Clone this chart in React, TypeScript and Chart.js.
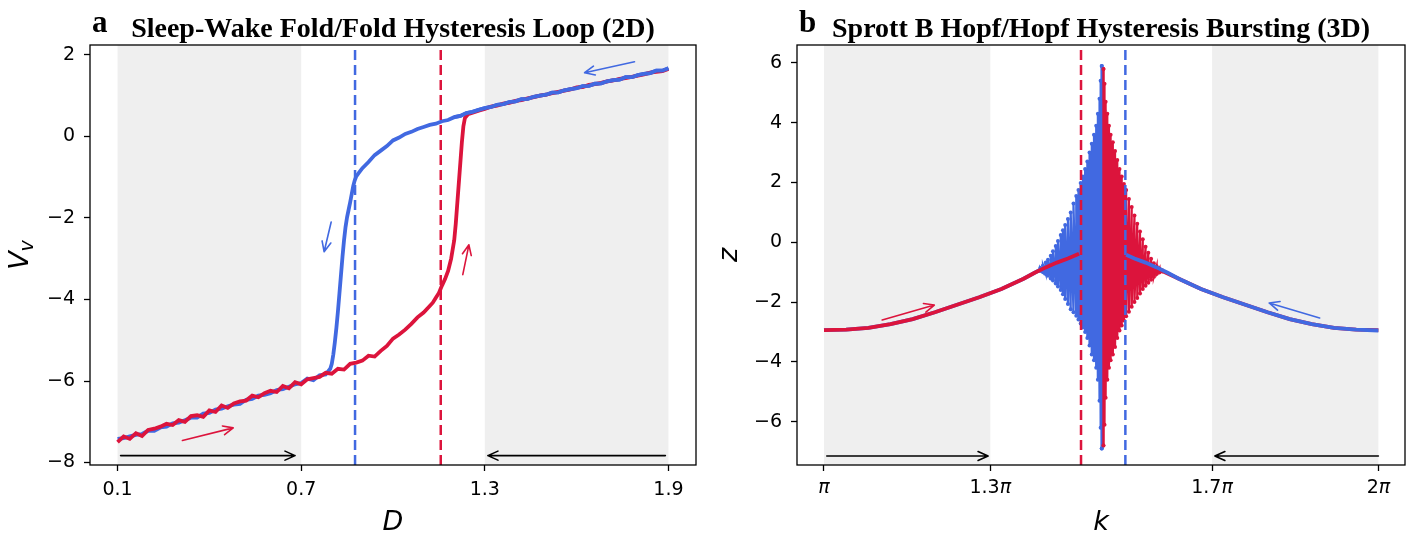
import React, { useEffect, useRef } from "react";
import { Chart, registerables } from "chart.js";
Chart.register(...registerables);

const BLUE = "#4169E1";
const RED = "#DC143C";
const SHADE = "#efefef";
type P = [number, number];
type Cycle = [number, number, number];

// ---------- Panel a : Sleep-Wake fold/fold hysteresis ----------
const aXTicks = [0.1, 0.7, 1.3, 1.9];
const aYTicks = [-8, -6, -4, -2, 0, 2];
const aShade: P[] = [[0.1, 0.7], [1.3, 1.9]];
const aThresholdBackward = 0.876;
const aThresholdForward = 1.156;

const aForward: P[] = [
  [0.10,-7.50],[0.12,-7.36],[0.14,-7.42],[0.16,-7.28],[0.18,-7.35],[0.20,-7.20],[0.22,-7.17],[0.24,-7.12],
  [0.26,-7.05],[0.28,-7.08],[0.30,-6.96],[0.32,-7.00],[0.34,-6.86],[0.36,-6.84],[0.38,-6.88],[0.40,-6.72],
  [0.42,-6.76],[0.44,-6.60],[0.46,-6.66],[0.48,-6.55],[0.50,-6.50],[0.52,-6.48],[0.54,-6.36],[0.56,-6.40],
  [0.58,-6.30],[0.60,-6.24],[0.62,-6.27],[0.64,-6.12],[0.66,-6.18],[0.68,-6.03],[0.70,-6.08],[0.72,-5.96],
  [0.74,-5.93],[0.76,-5.90],[0.78,-5.80],[0.80,-5.82],[0.82,-5.70],[0.84,-5.72],[0.86,-5.58],[0.88,-5.55],
  [0.90,-5.50],[0.92,-5.38],[0.94,-5.40],[0.96,-5.26],[0.98,-5.14],[1.00,-4.96],[1.02,-4.86],[1.04,-4.74],
  [1.06,-4.60],[1.08,-4.44],[1.10,-4.32],[1.12,-4.16],[1.13,-4.08],[1.14,-3.96],[1.15,-3.84],[1.16,-3.66],
  [1.17,-3.50],[1.18,-3.30],[1.19,-3.00],[1.20,-2.55],[1.205,-2.15],[1.21,-1.65],[1.215,-1.15],[1.22,-0.65],
  [1.225,-0.15],[1.23,0.25],[1.235,0.45],[1.245,0.54],[1.26,0.58],[1.28,0.63],[1.30,0.67],[1.32,0.73],
  [1.34,0.75],[1.36,0.80],[1.38,0.82],[1.40,0.87],[1.42,0.89],[1.44,0.93],[1.46,0.96],[1.48,1.00],
  [1.50,1.02],[1.52,1.06],[1.54,1.09],[1.56,1.12],[1.58,1.15],[1.60,1.20],[1.62,1.21],[1.64,1.26],
  [1.66,1.28],[1.68,1.31],[1.70,1.35],[1.72,1.37],[1.74,1.41],[1.76,1.43],[1.78,1.46],[1.80,1.49],
  [1.82,1.52],[1.84,1.56],[1.86,1.58],[1.88,1.60],[1.90,1.65],
];

const aBackward: P[] = [
  [1.90,1.67],[1.88,1.61],[1.86,1.61],[1.84,1.55],[1.82,1.53],[1.80,1.50],[1.78,1.45],[1.76,1.45],
  [1.74,1.39],[1.72,1.38],[1.70,1.35],[1.68,1.30],[1.66,1.29],[1.64,1.24],[1.62,1.23],[1.60,1.18],
  [1.58,1.16],[1.56,1.13],[1.54,1.08],[1.52,1.07],[1.50,1.02],[1.48,1.00],[1.46,0.97],[1.44,0.92],
  [1.42,0.91],[1.40,0.86],[1.38,0.84],[1.36,0.79],[1.34,0.77],[1.32,0.72],[1.30,0.69],[1.28,0.65],
  [1.26,0.60],[1.24,0.57],[1.22,0.50],[1.20,0.47],[1.18,0.40],[1.16,0.37],[1.14,0.31],[1.12,0.28],
  [1.10,0.23],[1.08,0.18],[1.06,0.11],[1.04,0.06],[1.02,-0.03],[1.00,-0.10],[0.98,-0.24],[0.96,-0.35],
  [0.94,-0.46],[0.92,-0.63],[0.90,-0.78],[0.89,-0.88],[0.88,-0.98],[0.875,-1.08],[0.87,-1.22],[0.865,-1.42],
  [0.86,-1.62],[0.855,-1.80],[0.85,-1.98],[0.845,-2.22],[0.84,-2.55],[0.835,-2.95],[0.83,-3.40],[0.825,-3.85],
  [0.82,-4.30],[0.815,-4.70],[0.81,-5.05],[0.805,-5.35],[0.80,-5.58],[0.795,-5.70],[0.78,-5.84],[0.76,-5.86],
  [0.74,-5.98],[0.72,-5.94],[0.70,-6.05],[0.68,-6.08],[0.66,-6.14],[0.64,-6.20],[0.62,-6.22],[0.60,-6.30],
  [0.58,-6.34],[0.56,-6.36],[0.54,-6.44],[0.52,-6.46],[0.50,-6.56],[0.48,-6.58],[0.46,-6.62],[0.44,-6.68],
  [0.42,-6.70],[0.40,-6.78],[0.38,-6.80],[0.36,-6.90],[0.34,-6.90],[0.32,-6.96],[0.30,-7.02],[0.28,-7.04],
  [0.26,-7.12],[0.24,-7.14],[0.22,-7.22],[0.20,-7.22],[0.18,-7.30],[0.16,-7.32],[0.14,-7.36],[0.12,-7.40],
  [0.10,-7.42],
];

const aArrowsForward: P[][] = [[[0.312,-7.46],[0.478,-7.15]], [[1.228,-3.39],[1.248,-2.66]]];
const aArrowsBackward: P[][] = [[[1.789,1.83],[1.626,1.56]], [[0.798,-2.10],[0.775,-2.83]]];
const aArrowsSweep: P[][] = [[[0.11,-7.83],[0.68,-7.83]], [[1.89,-7.83],[1.31,-7.83]]];

// ---------- Panel b : Sprott B Hopf/Hopf hysteresis bursting (k in units of pi) ----------
const bXTicks = [1, 1.3, 1.7, 2];
const bXTickLabels = ["", "1.3", "1.7", "2"];
const bYTicks = [-6, -4, -2, 0, 2, 4, 6];
const bShade: P[] = [[1.0, 1.3], [1.7, 2.0]];
const bThresholdForward = 1.4636;
const bThresholdBackward = 1.5436;

const bForwardHead: P[] = [
  [1.00,-2.94],[1.04,-2.92],[1.08,-2.86],[1.12,-2.74],[1.16,-2.57],[1.20,-2.34],[1.24,-2.09],[1.28,-1.84],
  [1.32,-1.56],[1.36,-1.22],[1.38,-1.02],[1.40,-0.84],[1.42,-0.68],[1.44,-0.54],[1.46,-0.38],
];
// [k, upper turning point, lower turning point] per oscillation
const bForwardBurst: Cycle[] = [
  [1.460,-0.30,-0.50],[1.465,-0.10,-0.75],[1.470,0.15,-1.00],[1.475,0.45,-1.30],[1.480,0.85,-1.70],
  [1.485,1.40,-2.20],[1.490,2.30,-2.90],[1.495,3.30,-3.60],[1.499,4.30,-4.60],[1.502,5.10,-5.80],
  [1.504,5.80,-6.80],[1.506,5.30,-6.10],[1.508,4.70,-5.20],[1.511,4.30,-4.60],[1.514,3.90,-4.20],
  [1.517,3.60,-3.95],[1.521,3.35,-3.75],[1.525,3.05,-3.50],[1.529,2.75,-3.20],[1.533,2.45,-2.95],
  [1.537,2.20,-2.78],[1.541,1.95,-2.62],[1.545,1.75,-2.47],[1.550,1.45,-2.32],[1.555,1.18,-2.16],
  [1.560,0.90,-2.00],[1.565,0.62,-1.86],[1.570,0.36,-1.71],[1.575,0.10,-1.56],[1.580,-0.15,-1.45],
  [1.585,-0.35,-1.35],[1.590,-0.55,-1.25],[1.595,-0.70,-1.15],[1.600,-0.80,-1.06],[1.605,-0.88,-1.01],
  [1.610,-0.94,-0.98],
];
const bForwardTail: P[] = [
  [1.61,-0.96],[1.64,-1.22],[1.68,-1.56],[1.72,-1.84],[1.76,-2.09],[1.80,-2.34],[1.84,-2.57],[1.88,-2.74],
  [1.92,-2.86],[1.96,-2.92],[2.00,-2.94],
];

const bBackwardHead: P[] = [
  [2.00,-2.95],[1.96,-2.92],[1.92,-2.86],[1.88,-2.74],[1.84,-2.57],[1.80,-2.34],[1.76,-2.09],[1.72,-1.84],
  [1.68,-1.56],[1.64,-1.22],[1.62,-1.02],[1.60,-0.84],[1.58,-0.68],[1.56,-0.54],[1.545,-0.42],
];
const bBackwardBurst: Cycle[] = [
  [1.545,-0.35,-0.55],[1.540,-0.20,-0.80],[1.535,0.00,-1.05],[1.530,0.30,-1.35],[1.525,0.70,-1.70],
  [1.520,1.30,-2.20],[1.515,2.20,-2.80],[1.510,3.30,-3.60],[1.506,4.40,-4.60],[1.503,5.20,-5.90],
  [1.501,5.90,-6.90],[1.499,5.40,-6.20],[1.497,4.80,-5.30],[1.494,4.30,-4.60],[1.491,3.90,-4.20],
  [1.487,3.60,-3.95],[1.483,3.30,-3.75],[1.479,3.00,-3.45],[1.475,2.70,-3.20],[1.471,2.45,-3.00],
  [1.467,2.20,-2.85],[1.463,1.98,-2.72],[1.459,1.75,-2.58],[1.455,1.55,-2.46],[1.450,1.30,-2.34],
  [1.445,1.00,-2.24],[1.440,0.78,-2.06],[1.435,0.58,-1.90],[1.431,0.40,-1.74],[1.427,0.24,-1.60],
  [1.422,0.04,-1.48],[1.418,-0.12,-1.38],[1.413,-0.30,-1.28],[1.409,-0.45,-1.21],[1.404,-0.58,-1.12],
  [1.400,-0.68,-1.06],[1.395,-0.78,-1.00],[1.390,-0.86,-0.96],
];
const bBackwardTail: P[] = [
  [1.39,-0.92],[1.36,-1.22],[1.32,-1.56],[1.28,-1.84],[1.24,-2.09],[1.20,-2.34],[1.16,-2.57],[1.12,-2.74],
  [1.08,-2.86],[1.04,-2.92],[1.00,-2.94],
];

const bArrowsForward: P[][] = [[[1.105,-2.60],[1.199,-2.10]]];
const bArrowsBackward: P[][] = [[[1.894,-2.53],[1.803,-2.03]]];
const bArrowsSweep: P[][] = [[[1.005,-7.15],[1.296,-7.15]], [[2.0,-7.15],[1.705,-7.15]]];

// ---------- helpers ----------
const TICK_FONT = { family: "'DejaVu Sans'", size: 19 };
const pts = (a: P[]) => a.map(([x, y]) => ({ x, y }));
const zigzag = (c: Cycle[]) => c.flatMap(([k, t, b]) => [{ x: k, y: t }, { x: k, y: b }]);
const peakIndex = (c: Cycle[]) => c.reduce((best, cur, i) => (cur[1] > c[best][1] ? i : best), 0);
const growth = (c: Cycle[]) => c.slice(0, peakIndex(c) + 1);
const decay = (c: Cycle[]) => c.slice(peakIndex(c));
const minus = (v: number) => (v < 0 ? "\u2212" + Math.abs(v) : String(v));

type ArrowSet = { list: P[][]; color: string; width: number };

function drawArrow(ctx: CanvasRenderingContext2D, x1: number, y1: number, x2: number, y2: number, color: string, w: number) {
  const ang = Math.atan2(y2 - y1, x2 - x1);
  const L = 11, spread = 0.42;
  ctx.save();
  ctx.strokeStyle = color;
  ctx.lineWidth = w;
  ctx.lineCap = "round";
  ctx.lineJoin = "round";
  ctx.beginPath();
  ctx.moveTo(x1, y1);
  ctx.lineTo(x2, y2);
  ctx.moveTo(x2 - L * Math.cos(ang - spread), y2 - L * Math.sin(ang - spread));
  ctx.lineTo(x2, y2);
  ctx.lineTo(x2 - L * Math.cos(ang + spread), y2 - L * Math.sin(ang + spread));
  ctx.stroke();
  ctx.restore();
}

function makePlugin(cfg: {
  id: string;
  letter: string;
  title: string;
  shades: P[];
  arrows: ArrowSet[];
  xLabel: string;
  yLabel: string;
  ySub?: string;
  yLabelOffset: number;
  piTicks?: { values: number[]; labels: string[] };
}) {
  return {
    id: cfg.id,
    beforeDatasetsDraw(chart: any) {
      const { ctx, chartArea: a, scales } = chart;
      ctx.save();
      ctx.fillStyle = SHADE;
      for (const [s, e] of cfg.shades) {
        const x1 = scales.x.getPixelForValue(s);
        const x2 = scales.x.getPixelForValue(e);
        ctx.fillRect(x1, a.top, x2 - x1, a.bottom - a.top);
      }
      ctx.restore();
    },
    afterDatasetsDraw(chart: any) {
      const { ctx, chartArea: a, scales } = chart;
      for (const set of cfg.arrows) {
        for (const [[x1, y1], [x2, y2]] of set.list) {
          drawArrow(ctx, scales.x.getPixelForValue(x1), scales.y.getPixelForValue(y1),
            scales.x.getPixelForValue(x2), scales.y.getPixelForValue(y2), set.color, set.width);
        }
      }
      ctx.save();
      ctx.strokeStyle = "#000";
      ctx.lineWidth = 1.3;
      ctx.strokeRect(a.left, a.top, a.right - a.left, a.bottom - a.top);
      ctx.restore();
    },
    afterDraw(chart: any) {
      const { ctx, chartArea: a, scales } = chart;
      ctx.save();
      ctx.fillStyle = "#000";
      ctx.font = "bold 31px 'Liberation Serif'";
      ctx.textAlign = "left";
      ctx.textBaseline = "alphabetic";
      ctx.fillText(cfg.letter, a.left + 2, 32);
      ctx.font = "bold 28px 'Liberation Serif'";
      ctx.textAlign = "center";
      ctx.fillText(cfg.title, (a.left + a.right) / 2, 37);
      ctx.font = "italic 27px 'DejaVu Sans'";
      ctx.fillText(cfg.xLabel, (a.left + a.right) / 2, 530);
      ctx.translate(a.left - cfg.yLabelOffset, (a.top + a.bottom) / 2);
      ctx.rotate(-Math.PI / 2);
      ctx.textAlign = "left";
      ctx.font = "italic 27px 'DejaVu Sans'";
      const wMain = ctx.measureText(cfg.yLabel).width;
      ctx.font = "italic 19px 'DejaVu Sans'";
      const wSub = cfg.ySub ? ctx.measureText(cfg.ySub).width : 0;
      const start = -(wMain + wSub) / 2;
      ctx.font = "italic 27px 'DejaVu Sans'";
      ctx.fillText(cfg.yLabel, start, 0);
      if (cfg.ySub) {
        ctx.font = "italic 19px 'DejaVu Sans'";
        ctx.fillText(cfg.ySub, start + wMain, 5);
      }
      ctx.restore();
      if (cfg.piTicks) {
        ctx.save();
        ctx.fillStyle = "#000";
        ctx.textBaseline = "top";
        ctx.textAlign = "left";
        const y = a.bottom + 6 + 8;
        cfg.piTicks.values.forEach((v, i) => {
          const num = cfg.piTicks!.labels[i];
          ctx.font = "19px 'DejaVu Sans'";
          const wn = ctx.measureText(num).width;
          ctx.font = "italic 19px 'DejaVu Sans'";
          const wp = ctx.measureText("\u03c0").width;
          const x0 = scales.x.getPixelForValue(v) - (wn + wp) / 2;
          ctx.font = "19px 'DejaVu Sans'";
          ctx.fillText(num, x0, y);
          ctx.font = "italic 19px 'DejaVu Sans'";
          ctx.fillText("\u03c0", x0 + wn, y);
        });
        ctx.restore();
      }
    },
  };
}

function axisOpts(min: number, max: number, ticks: number[], isX: boolean, size: number, showLabels = true) {
  return {
    type: "linear",
    min,
    max,
    afterBuildTicks: (s: any) => { s.ticks = ticks.map((v) => ({ value: v })); },
    afterFit: (s: any) => { if (isX) s.height = size; else s.width = size; },
    ticks: {
      display: showLabels,
      font: TICK_FONT,
      color: "#000",
      padding: isX ? 8 : 9,
      callback: (v: number) => minus(v),
    },
    grid: { drawOnChartArea: false, drawTicks: true, tickLength: 6, tickColor: "#000", tickWidth: 1.3 },
    border: { display: false },
  };
}

const lineDs = (data: any[], color: string, width: number, order: number, extra: any = {}) => ({
  data, borderColor: color, backgroundColor: color, borderWidth: width, showLine: true,
  pointRadius: 0, fill: false, tension: 0, order, ...extra,
});
const burstStyle = { pointRadius: 2, pointBorderWidth: 0 };

function PanelA() {
  const ref = useRef<HTMLCanvasElement>(null);
  useEffect(() => {
    const ymin = -8.06, ymax = 2.24;
    const chart = new Chart(ref.current!, {
      type: "scatter",
      data: {
        datasets: [
          lineDs(pts(aBackward), BLUE, 3.8, 10),
          lineDs(pts(aForward), RED, 3.8, 9),
          lineDs(pts(aBackward.filter((p) => p[0] >= 1.2)), BLUE, 3.8, 8),
          lineDs([{ x: aThresholdBackward, y: ymin }, { x: aThresholdBackward, y: ymax }], BLUE, 2.5, 1, { borderDash: [10, 5] }),
          lineDs([{ x: aThresholdForward, y: ymin }, { x: aThresholdForward, y: ymax }], RED, 2.5, 1, { borderDash: [10, 5] }),
        ] as any,
      },
      options: {
        responsive: false,
        animation: false,
        devicePixelRatio: 1,
        layout: { padding: { left: 0, right: 14, top: 45, bottom: 0 } },
        plugins: { legend: { display: false }, tooltip: { enabled: false } },
        scales: {
          x: axisOpts(0.01, 1.99, aXTicks, true, 70) as any,
          y: axisOpts(ymin, ymax, aYTicks, false, 90) as any,
        },
      },
      plugins: [makePlugin({
        id: "panelA", letter: "a", title: "Sleep-Wake Fold/Fold Hysteresis Loop (2D)",
        shades: aShade,
        arrows: [
          { list: aArrowsForward, color: RED, width: 1.6 },
          { list: aArrowsBackward, color: BLUE, width: 1.6 },
          { list: aArrowsSweep, color: "#000", width: 1.6 },
        ],
        xLabel: "D", yLabel: "V", ySub: "v", yLabelOffset: 62,
      })],
    });
    return () => chart.destroy();
  }, []);
  return <canvas ref={ref} width={710} height={535} style={{ position: "absolute", left: 0, top: 0 }} />;
}

function PanelB() {
  const ref = useRef<HTMLCanvasElement>(null);
  useEffect(() => {
    const ymin = -7.45, ymax = 6.6;
    const chart = new Chart(ref.current!, {
      type: "scatter",
      data: {
        datasets: [
          lineDs(pts(bForwardTail), RED, 3.8, 20),
          lineDs(pts(bBackwardTail), BLUE, 3.8, 19),
          lineDs(zigzag(growth(bForwardBurst)), RED, 2.2, 18, burstStyle),
          lineDs(zigzag(growth(bBackwardBurst)), BLUE, 2.2, 17, burstStyle),
          lineDs(zigzag(decay(bBackwardBurst)), BLUE, 2.2, 16, burstStyle),
          lineDs(zigzag(decay(bForwardBurst)), RED, 2.2, 15, burstStyle),
          lineDs(pts(bForwardHead), RED, 3.8, 14),
          lineDs(pts(bBackwardHead), BLUE, 3.8, 13),
          lineDs([{ x: bThresholdForward, y: ymin }, { x: bThresholdForward, y: ymax }], RED, 2.5, 1, { borderDash: [10, 5] }),
          lineDs([{ x: bThresholdBackward, y: ymin }, { x: bThresholdBackward, y: ymax }], BLUE, 2.5, 1, { borderDash: [10, 5] }),
        ] as any,
      },
      options: {
        responsive: false,
        animation: false,
        devicePixelRatio: 1,
        layout: { padding: { left: 0, right: 14, top: 45, bottom: 0 } },
        plugins: { legend: { display: false }, tooltip: { enabled: false } },
        scales: {
          x: axisOpts(0.9513, 2.048, bXTicks, true, 70, false) as any,
          y: axisOpts(ymin, ymax, bYTicks, false, 87) as any,
        },
      },
      plugins: [makePlugin({
        id: "panelB", letter: "b", title: "Sprott B Hopf/Hopf Hysteresis Bursting (3D)",
        shades: bShade,
        arrows: [
          { list: bArrowsForward, color: RED, width: 1.6 },
          { list: bArrowsBackward, color: BLUE, width: 1.6 },
          { list: bArrowsSweep, color: "#000", width: 1.6 },
        ],
        xLabel: "k", yLabel: "z", yLabelOffset: 60,
        piTicks: { values: bXTicks, labels: bXTickLabels },
      })],
    });
    return () => chart.destroy();
  }, []);
  return <canvas ref={ref} width={709} height={535} style={{ position: "absolute", left: 710, top: 0 }} />;
}

export default function App() {
  return (
    <div style={{ position: "absolute", left: 0, top: 0, width: 1419, height: 535, background: "#fff" }}>
      <PanelA />
      <PanelB />
    </div>
  );
}
